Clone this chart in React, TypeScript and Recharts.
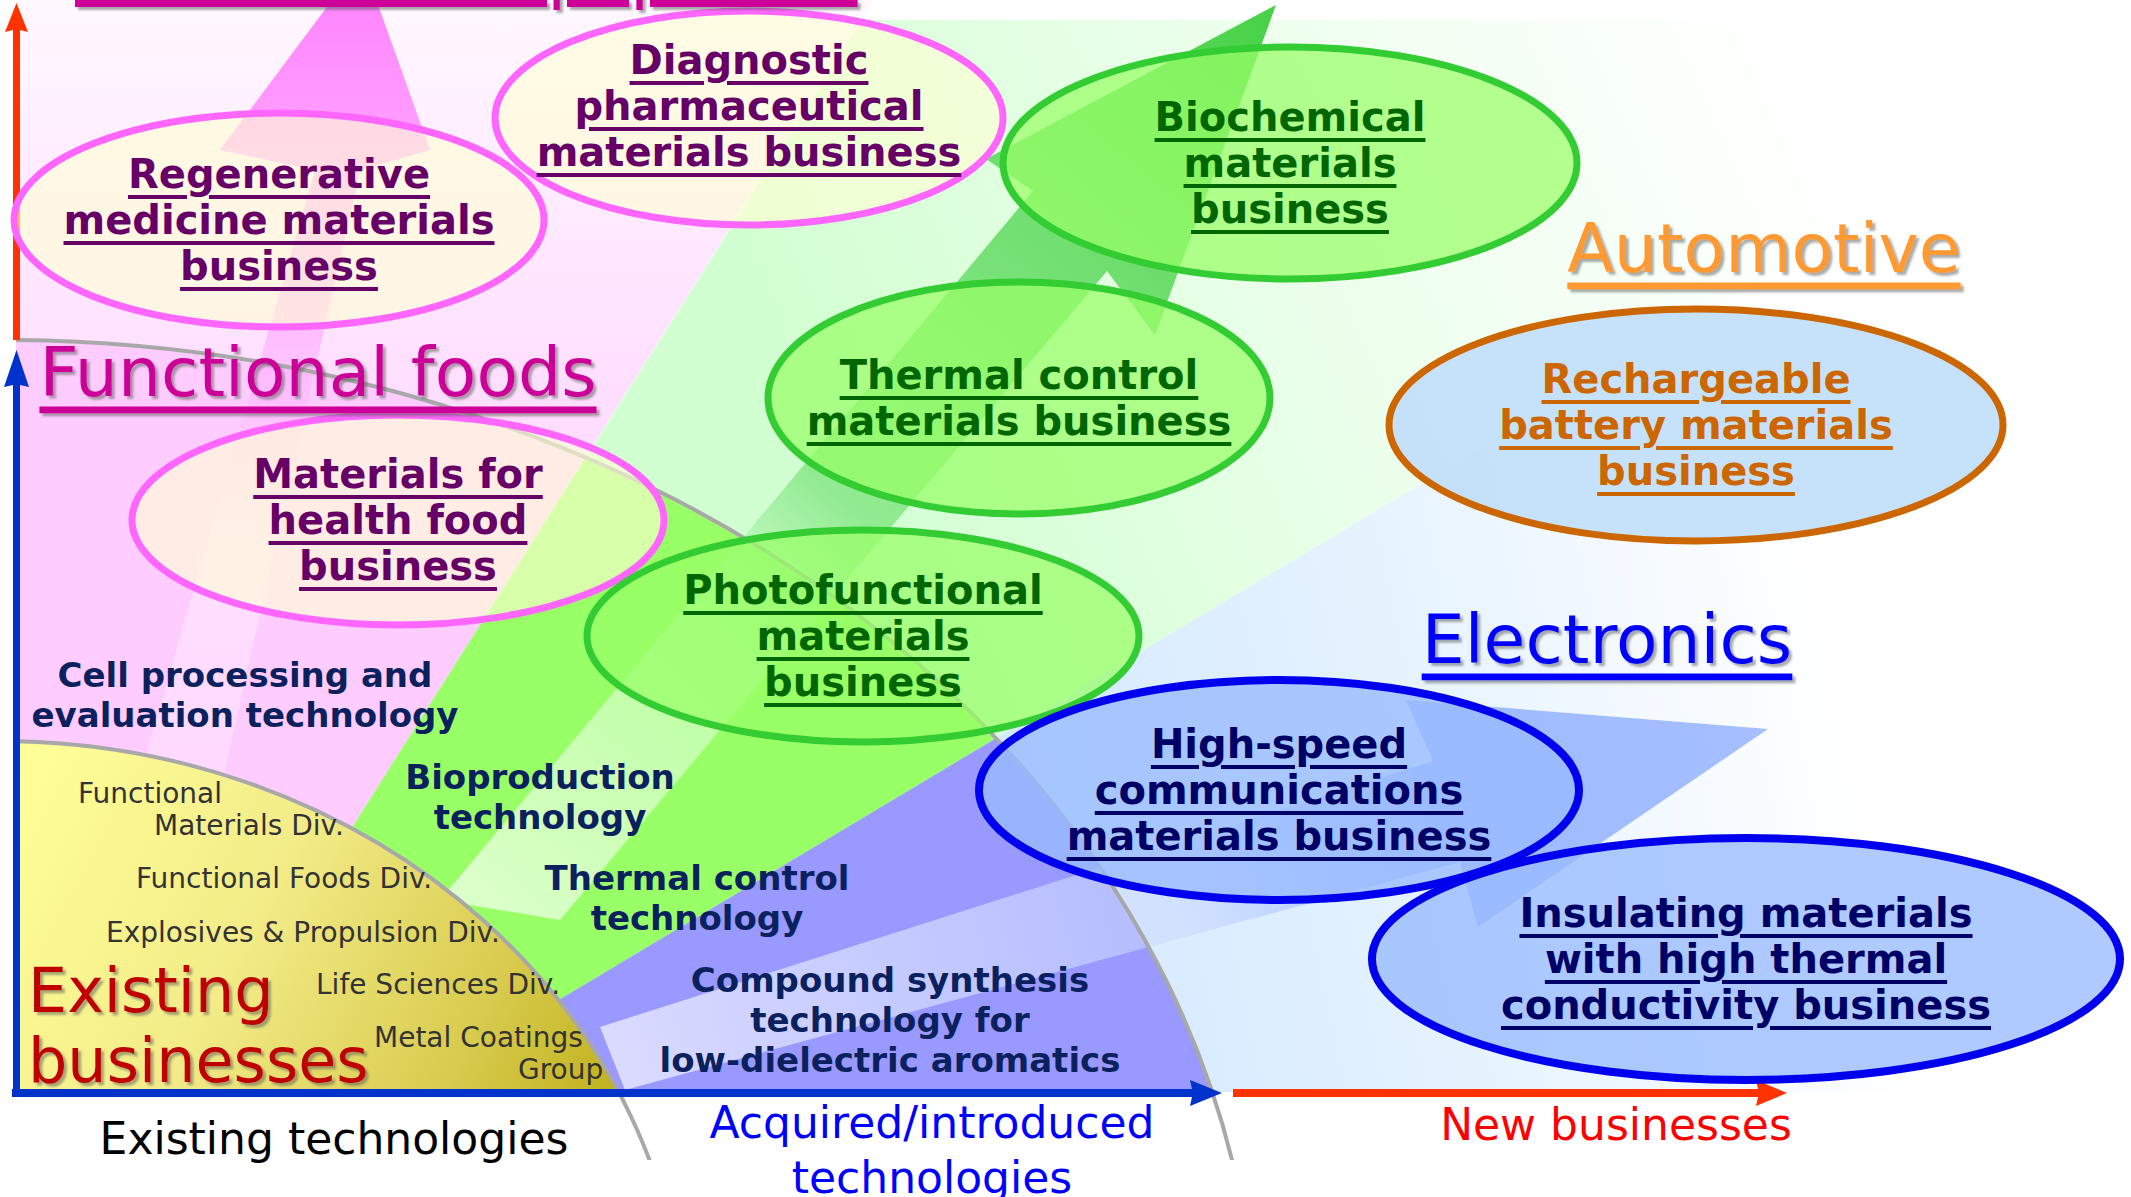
import React from "react";
import { ScatterChart, Scatter, XAxis, YAxis } from "recharts";

const W = 2131;
const H = 1197;
const FONT = "'DejaVu Sans', Verdana, sans-serif";

type P = { x: number; y: number };

// Diagram units: x to the right, y downward (the y axis is reversed).
const axisOrigin: P[] = [{ x: 16, y: 1092 }];

// fan sectors coming out of the origin
const medicalSector: P[] = [
  { x: 16, y: 0 }, { x: 874, y: 0 }, { x: 185, y: 1092 }, { x: 16, y: 1092 },
];
const bioSector: P[] = [
  { x: 862, y: 20 }, { x: 2131, y: 20 }, { x: 2131, y: 59 }, { x: 405, y: 1092 }, { x: 185, y: 1092 },
];
const elecSector: P[] = [
  { x: 2131, y: 59 }, { x: 2131, y: 1092 }, { x: 405, y: 1092 },
];

// centres of the two technology arcs
const existingArc: P[] = [{ x: 0, y: 1359 }];
const acquiredArc: P[] = [{ x: 0, y: 1359 }];

// translucent growth arrows
const pinkArrow: P[] = [
  { x: 362, y: -40 }, { x: 430, y: 150 }, { x: 360, y: 170 }, { x: 200, y: 880 },
  { x: 110, y: 880 }, { x: 315, y: 170 }, { x: 220, y: 150 },
];
const greenArrow: P[] = [
  { x: 1276, y: 5 }, { x: 1155, y: 335 }, { x: 1107, y: 271 }, { x: 560, y: 920 },
  { x: 440, y: 900 }, { x: 1033, y: 191 }, { x: 986, y: 159 },
];
const blueArrow: P[] = [
  { x: 1768, y: 729 }, { x: 1478, y: 927 }, { x: 1460, y: 862 }, { x: 625, y: 1090 },
  { x: 600, y: 1027 }, { x: 1433, y: 761 }, { x: 1406, y: 700 },
];

// axis arrows
const marketAxis: P[] = [
  { x: 13, y: 340 }, { x: 13, y: 30 }, { x: 5, y: 32 }, { x: 16.5, y: 3 },
  { x: 28, y: 32 }, { x: 20, y: 30 }, { x: 20, y: 340 },
];
const businessAxis: P[] = [
  { x: 13, y: 1096 }, { x: 13, y: 385 }, { x: 4, y: 387 }, { x: 16.5, y: 350 },
  { x: 29, y: 387 }, { x: 20, y: 385 }, { x: 20, y: 1096 },
];
const techAxis: P[] = [
  { x: 12, y: 1089 }, { x: 1192, y: 1089 }, { x: 1190, y: 1080 }, { x: 1222, y: 1093 },
  { x: 1190, y: 1106 }, { x: 1192, y: 1097 }, { x: 12, y: 1097 },
];
const newAxis: P[] = [
  { x: 1233, y: 1089 }, { x: 1758, y: 1089 }, { x: 1756, y: 1080 }, { x: 1787, y: 1093 },
  { x: 1756, y: 1106 }, { x: 1758, y: 1097 }, { x: 1233, y: 1097 },
];

// target businesses
const businesses = [
  { name: "regenerative", group: "medical", x: 279, y: 220, lines: ["Regenerative", "medicine materials", "business"] },
  { name: "diagnostic", group: "medical", x: 749, y: 118, lines: ["Diagnostic", "pharmaceutical", "materials business"] },
  { name: "healthFood", group: "medical", x: 398, y: 520, lines: ["Materials for", "health food", "business"] },
  { name: "biochemical", group: "bio", x: 1290, y: 163, lines: ["Biochemical", "materials", "business"] },
  { name: "thermal", group: "bio", x: 1019, y: 398, lines: ["Thermal control", "materials business"] },
  { name: "photofunctional", group: "bio", x: 863, y: 636, lines: ["Photofunctional", "materials", "business"] },
  { name: "battery", group: "auto", x: 1696, y: 425, lines: ["Rechargeable", "battery materials", "business"] },
  { name: "highSpeed", group: "elec", x: 1279, y: 790, lines: ["High-speed", "communications", "materials business"] },
  { name: "insulating", group: "elec", x: 1746, y: 959, lines: ["Insulating materials", "with high thermal", "conductivity business"] },
];

const technologies = [
  { x: 245, y: 695, lines: ["Cell processing and", "evaluation technology"] },
  { x: 540, y: 797, lines: ["Bioproduction", "technology"] },
  { x: 697, y: 898, lines: ["Thermal control", "technology"] },
  { x: 890, y: 1020, lines: ["Compound synthesis", "technology for", "low-dielectric aromatics"] },
];

const divisions = [
  { x: 78, y: 793, lines: ["Functional"] },
  { x: 154, y: 825, lines: ["Materials Div."] },
  { x: 136, y: 878, lines: ["Functional Foods Div."] },
  { x: 106, y: 932, lines: ["Explosives & Propulsion Div."] },
  { x: 316, y: 984, lines: ["Life Sciences Div."] },
  { x: 374, y: 1037, lines: ["Metal Coatings"] },
  { x: 518, y: 1069, lines: ["Group"] },
];

const existingLabel = [{ x: 28, y: 1025, lines: ["Existing", "businesses"] }];

const markets = [
  { x: 318, y: 372, lines: ["Functional foods"], kind: "food" },
  { x: 1764, y: 248, lines: ["Automotive"], kind: "auto" },
  { x: 1607, y: 639, lines: ["Electronics"], kind: "elec" },
];
const topTitle = [{ x: 75, y: -4, lines: ["Healthcare equipment"] }];

const axisTitleBlack = [{ x: 334, y: 1138, lines: ["Existing technologies"] }];
const axisTitleBlue = [{ x: 932, y: 1150, lines: ["Acquired/introduced", "technologies"] }];
const axisTitleRed = [{ x: 1616, y: 1124, lines: ["New businesses"] }];

// ---- styles ----
const ELLIPSE_R: Record<string, [number, number]> = {
  regenerative: [265, 107],
  diagnostic: [254, 107],
  healthFood: [266, 105],
  biochemical: [287, 116],
  thermal: [251, 116],
  photofunctional: [276, 106],
  battery: [307, 116],
  highSpeed: [300, 110],
  insulating: [374, 121],
};
const TEXT_DY: Record<string, number> = { diagnostic: -12 };
const ARC_R = { existing: [686, 618], acquired: [1256, 1019] };

const GROUP_STYLE: Record<string, { fill: string; op: number; stroke: string; sw: number; text: string }> = {
  medical: { fill: "#FFFFD4", op: 0.62, stroke: "#FF66FF", sw: 7, text: "#660066" },
  bio: { fill: "#99FF66", op: 0.72, stroke: "#33CC33", sw: 7, text: "#006600" },
  auto: { fill: "#C3DFFA", op: 0.95, stroke: "#CC6600", sw: 7, text: "#CC6600" },
  elec: { fill: "#99BBFF", op: 0.78, stroke: "#0000EE", sw: 8, text: "#000066" },
};
const MARKET_COLOR: Record<string, string> = { food: "#CC0099", auto: "#FF9933", elec: "#0000FF" };

type LabelStyle = {
  size: number;
  weight?: string;
  color: string;
  anchor: "start" | "middle" | "end";
  lineHeight: number;
  underline?: boolean;
  shadow?: boolean;
  baseline?: string;
};

const NoDot = () => <g />;

const pathOf = (pts: { x: number; y: number }[]) =>
  pts.map((p, i) => `${i ? "L" : "M"}${p.x},${p.y}`).join("") + "Z";

const polygon = (fill: string, clip?: string) => (props: any) => (
  <g clipPath={clip}>
    <path d={pathOf(props.points)} fill={fill} stroke="none" />
  </g>
);

const bandPolygon = (fill: string) => (props: any) => (
  <g clipPath="url(#plot-clip)">
    <path d={pathOf(props.points)} fill={fill} stroke="none" clipPath="url(#arc-acquired)" />
  </g>
);

const DefsShape = (props: any) => {
  const { cx, cy } = props;
  return (
    <defs>
      <clipPath id="plot-clip">
        <rect x={cx} y={-200} width={W} height={cy + 200} />
      </clipPath>
      <clipPath id="arc-line-clip">
        <rect x={cx} y={0} width={W} height={cy + 68} />
      </clipPath>
      <filter id="soft-shadow" x="-5%" y="-20%" width="110%" height="150%">
        <feDropShadow dx="3" dy="3" stdDeviation="1.3" floodColor="#555" floodOpacity="0.5" />
      </filter>
      <linearGradient id="pale-pink" x1="0" y1="0" x2="0" y2="420" gradientUnits="userSpaceOnUse">
        <stop offset="0" stopColor="#FFF8FF" />
        <stop offset="1" stopColor="#FFDDFF" />
      </linearGradient>
      <linearGradient id="pale-green" x1="850" y1="500" x2="1800" y2="80" gradientUnits="userSpaceOnUse">
        <stop offset="0" stopColor="#D2FFD2" />
        <stop offset="0.5" stopColor="#ECFFEC" />
        <stop offset="1" stopColor="#FFFFFF" />
      </linearGradient>
      <linearGradient id="pale-blue" x1="1000" y1="900" x2="1850" y2="720" gradientUnits="userSpaceOnUse">
        <stop offset="0" stopColor="#D2E8FF" />
        <stop offset="0.55" stopColor="#E8F4FF" />
        <stop offset="1" stopColor="#FFFFFF" />
      </linearGradient>
      <linearGradient id="yellow-fill" x1="16" y1="760" x2="640" y2="1092" gradientUnits="userSpaceOnUse">
        <stop offset="0" stopColor="#FFFF99" />
        <stop offset="0.4" stopColor="#F3EC88" />
        <stop offset="0.75" stopColor="#D8CB4E" />
        <stop offset="1" stopColor="#BEAE16" />
      </linearGradient>
      <linearGradient id="pink-arrow" x1="0" y1="-40" x2="0" y2="880" gradientUnits="userSpaceOnUse">
        <stop offset="0" stopColor="#FF66FF" stopOpacity="0.85" />
        <stop offset="0.35" stopColor="#FF88FF" stopOpacity="0.55" />
        <stop offset="0.7" stopColor="#FFFFFF" stopOpacity="0.35" />
        <stop offset="1" stopColor="#FFFFFF" stopOpacity="0.2" />
      </linearGradient>
      <linearGradient id="green-arrow" x1="480" y1="900" x2="1276" y2="5" gradientUnits="userSpaceOnUse">
        <stop offset="0" stopColor="#FFFFFF" stopOpacity="0.65" />
        <stop offset="0.3" stopColor="#DDFFDD" stopOpacity="0.5" />
        <stop offset="0.45" stopColor="#66DD66" stopOpacity="0.6" />
        <stop offset="1" stopColor="#33CC33" stopOpacity="0.9" />
      </linearGradient>
      <linearGradient id="blue-arrow" x1="600" y1="1060" x2="1768" y2="729" gradientUnits="userSpaceOnUse">
        <stop offset="0" stopColor="#FFFFFF" stopOpacity="0.65" />
        <stop offset="0.5" stopColor="#C8D8FF" stopOpacity="0.55" />
        <stop offset="0.72" stopColor="#7FA2FF" stopOpacity="0.7" />
        <stop offset="1" stopColor="#88AAFF" stopOpacity="0.75" />
      </linearGradient>
    </defs>
  );
};

const ArcClipShape = (name: "existing" | "acquired") => (props: any) => (
  <defs>
    <clipPath id={`arc-${name}`}>
      <ellipse cx={props.cx} cy={props.cy} rx={ARC_R[name][0]} ry={ARC_R[name][1]} />
    </clipPath>
  </defs>
);

const YellowShape = (props: any) => (
  <g clipPath="url(#plot-clip)">
    <ellipse cx={props.cx} cy={props.cy} rx={ARC_R.existing[0]} ry={ARC_R.existing[1]} fill="url(#yellow-fill)" />
  </g>
);

const ArcLineShape = (name: "existing" | "acquired") => (props: any) => (
  <g clipPath="url(#arc-line-clip)">
    <ellipse
      cx={props.cx}
      cy={props.cy}
      rx={ARC_R[name][0]}
      ry={ARC_R[name][1]}
      fill="none"
      stroke="#A8A8A8"
      strokeWidth={4}
    />
  </g>
);

const textShape = (s: LabelStyle, colorOf?: (p: any) => string) => (props: any) => {
  const { cx, cy, payload } = props;
  const lines: string[] = payload.lines;
  const n = lines.length;
  return (
    <g filter={s.shadow ? "url(#soft-shadow)" : undefined}>
      {lines.map((t, i) => (
        <text
          key={i}
          x={cx}
          y={cy + (i - (n - 1) / 2) * s.lineHeight}
          textAnchor={s.anchor}
          dominantBaseline={s.baseline ?? "central"}
          fontFamily={FONT}
          fontSize={s.size}
          fontWeight={s.weight ?? "normal"}
          fill={colorOf ? colorOf(payload) : s.color}
          style={s.underline ? { textDecoration: "underline" } : undefined}
        >
          {t}
        </text>
      ))}
    </g>
  );
};

const BusinessShape = (props: any) => {
  const { cx, cy, payload } = props;
  const st = GROUP_STYLE[payload.group];
  const [rx, ry] = ELLIPSE_R[payload.name];
  const lines: string[] = payload.lines;
  const n = lines.length;
  const ty = cy + (TEXT_DY[payload.name] ?? 0);
  return (
    <g>
      <ellipse cx={cx} cy={cy} rx={rx} ry={ry} fill={st.fill} fillOpacity={st.op} stroke={st.stroke} strokeWidth={st.sw} />
      {lines.map((t, i) => (
        <text
          key={i}
          x={cx}
          y={ty + (i - (n - 1) / 2) * 46}
          textAnchor="middle"
          dominantBaseline="central"
          fontFamily={FONT}
          fontSize={40}
          fontWeight="bold"
          fill={st.text}
          style={{ textDecoration: "underline" }}
        >
          {t}
        </text>
      ))}
    </g>
  );
};

const techStyle: LabelStyle = { size: 34, weight: "bold", color: "#0B215E", anchor: "middle", lineHeight: 40 };
const divStyle: LabelStyle = { size: 28, color: "#333333", anchor: "start", lineHeight: 32 };
const existingStyle: LabelStyle = { size: 62, color: "#C00000", anchor: "start", lineHeight: 70, shadow: true };
const marketStyle: LabelStyle = { size: 68, color: "#CC0099", anchor: "middle", lineHeight: 70, underline: true, shadow: true };
const titleStyle: LabelStyle = { size: 70, color: "#CC0099", anchor: "start", lineHeight: 70, underline: true, shadow: true, baseline: "auto" };
const axisBlack: LabelStyle = { size: 44, color: "#000000", anchor: "middle", lineHeight: 54 };
const axisBlue: LabelStyle = { size: 44, color: "#0000FF", anchor: "middle", lineHeight: 55 };
const axisRed: LabelStyle = { size: 44, color: "#FF0000", anchor: "middle", lineHeight: 54 };

export default function App() {
  return (
    <div style={{ position: "absolute", left: 0, top: 0, width: W, height: H, background: "#fff" }}>
      <ScatterChart width={W} height={H} margin={{ top: 0, right: 0, bottom: 0, left: 0 }}>
        <XAxis type="number" dataKey="x" domain={[0, W]} allowDataOverflow hide />
        <YAxis type="number" dataKey="y" domain={[0, H]} allowDataOverflow reversed hide />

        <Scatter data={axisOrigin} shape={DefsShape} isAnimationActive={false} />
        <Scatter data={acquiredArc} shape={ArcClipShape("acquired")} isAnimationActive={false} />

        {/* pale outer sectors */}
        <Scatter data={medicalSector} line={polygon("url(#pale-pink)", "url(#plot-clip)")} shape={NoDot} isAnimationActive={false} />
        <Scatter data={bioSector} line={polygon("url(#pale-green)", "url(#plot-clip)")} shape={NoDot} isAnimationActive={false} />
        <Scatter data={elecSector} line={polygon("url(#pale-blue)", "url(#plot-clip)")} shape={NoDot} isAnimationActive={false} />

        {/* acquired technology band */}
        <Scatter data={medicalSector} line={bandPolygon("#FFCCFF")} shape={NoDot} isAnimationActive={false} />
        <Scatter data={bioSector} line={bandPolygon("#99FF66")} shape={NoDot} isAnimationActive={false} />
        <Scatter data={elecSector} line={bandPolygon("#9999FF")} shape={NoDot} isAnimationActive={false} />

        {/* growth arrows */}
        <Scatter data={pinkArrow} line={polygon("url(#pink-arrow)")} shape={NoDot} isAnimationActive={false} />
        <Scatter data={greenArrow} line={polygon("url(#green-arrow)")} shape={NoDot} isAnimationActive={false} />
        <Scatter data={blueArrow} line={polygon("url(#blue-arrow)")} shape={NoDot} isAnimationActive={false} />

        {/* existing businesses quadrant and arcs */}
        <Scatter data={existingArc} shape={YellowShape} isAnimationActive={false} />
        <Scatter data={existingArc} shape={ArcLineShape("existing")} isAnimationActive={false} />
        <Scatter data={acquiredArc} shape={ArcLineShape("acquired")} isAnimationActive={false} />

        {/* axes */}
        <Scatter data={marketAxis} line={polygon("#FF3300")} shape={NoDot} isAnimationActive={false} />
        <Scatter data={businessAxis} line={polygon("#0033CC")} shape={NoDot} isAnimationActive={false} />
        <Scatter data={techAxis} line={polygon("#0033CC")} shape={NoDot} isAnimationActive={false} />
        <Scatter data={newAxis} line={polygon("#FF3300")} shape={NoDot} isAnimationActive={false} />

        <Scatter data={businesses} shape={BusinessShape} isAnimationActive={false} />

        <Scatter data={technologies} shape={textShape(techStyle)} isAnimationActive={false} />
        <Scatter data={divisions} shape={textShape(divStyle)} isAnimationActive={false} />
        <Scatter data={existingLabel} shape={textShape(existingStyle)} isAnimationActive={false} />
        <Scatter data={markets} shape={textShape(marketStyle, (p) => MARKET_COLOR[p.kind])} isAnimationActive={false} />
        <Scatter data={topTitle} shape={textShape(titleStyle)} isAnimationActive={false} />
        <Scatter data={axisTitleBlack} shape={textShape(axisBlack)} isAnimationActive={false} />
        <Scatter data={axisTitleBlue} shape={textShape(axisBlue)} isAnimationActive={false} />
        <Scatter data={axisTitleRed} shape={textShape(axisRed)} isAnimationActive={false} />
      </ScatterChart>
    </div>
  );
}
